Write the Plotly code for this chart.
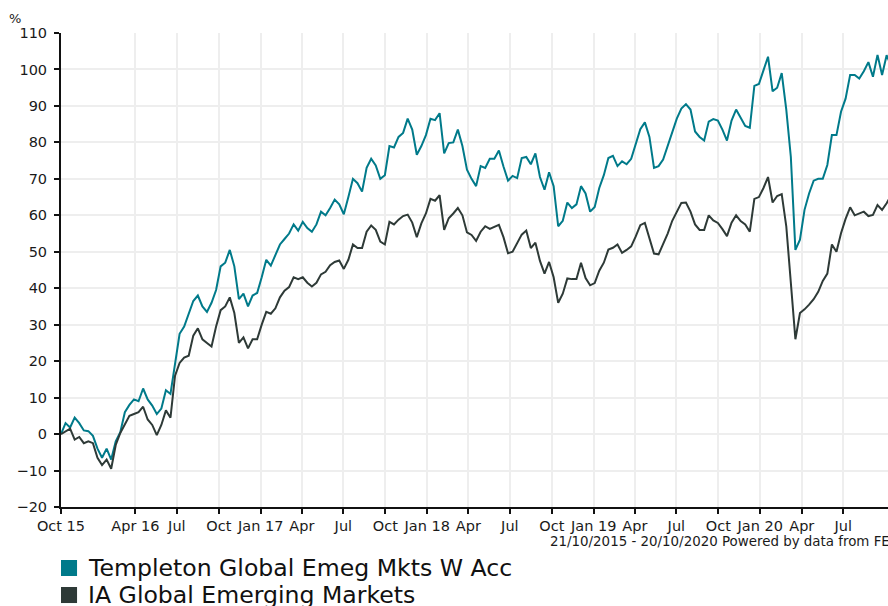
import pandas as pd
import plotly.graph_objects as go

# ---- data (% growth, every 10 days from 21/10/2015) ----
start_date = "2015-10-21"
n_points = 183

templeton = [
    0, 3, 1.8, 4.5, 3, 1, 0.8, -0.5, -4, -6.5,
    -4, -7, -2, 0.5, 6, 8, 9.5, 9, 12.5, 9.5,
    7.8, 5.5, 7, 12, 11, 19, 27.5, 29.5, 33, 36.5,
    38, 35, 33.5, 36, 39.5, 46, 47, 50.5, 46, 37,
    38.5, 35, 38, 38.7, 43, 47.8, 46.2, 49, 52, 53.5,
    55, 57.5, 55.8, 58.2, 56.5, 55.5, 57.5, 61, 60, 62,
    64.3, 63, 60.3, 65, 70, 68.8, 66.5, 73, 75.5, 73.7,
    70, 71, 79, 78.6, 81.5, 82.6, 86.5, 83.5, 76.6, 79,
    82, 86.5, 86.1, 88, 77, 79.8, 80, 83.5, 79, 72.5,
    70, 68, 73.5, 73, 75.5, 75.5, 77.8, 73.4, 69.5, 70.8,
    70.2, 75.7, 76, 74, 77, 70.5, 67, 71.8, 68, 57,
    58.5, 63.5, 62, 63, 68, 66, 61, 62.3, 67.5, 71,
    75.7, 76.3, 73.5, 74.8, 74, 75.5, 79.5, 83.6, 85.5, 81.5,
    73, 73.5, 75.3, 79, 83, 86.5, 89.3, 90.5, 89, 83,
    81.5, 80.5, 85.7, 86.4, 86, 83.5, 80.5, 86, 89, 86.6,
    84.5, 84, 95.5, 96, 100, 103.5, 94, 95, 99, 89,
    76, 50.5, 53.3, 61.5, 66, 69.5, 70, 70, 73.8, 82,
    82, 88.4, 92, 98.5, 98.5, 97.5, 99.5, 102, 98, 104,
    98.5, 103.9, 101,
]

ia_gem = [
    0, 0.8, 1.5, -1.5, -0.8, -2.5, -2, -2.5, -6.5, -8.5,
    -7, -9.5, -3, 0.3, 2.5, 5, 5.5, 6, 7.5, 4,
    2.5, -0.3, 2.5, 6.5, 4.5, 16, 19.5, 21, 21.5, 27,
    29, 26, 25, 24, 29.5, 34, 35, 37.5, 33.2, 25,
    26.5, 23.5, 26, 26, 30, 33.5, 33, 34.5, 37.5, 39.3,
    40.3, 43, 42.5, 43, 41.5, 40.5, 41.5, 43.8, 44.5, 46.3,
    47.2, 47.6, 45.3, 47.8, 52, 51, 51, 55.5, 57.2, 56,
    52.8, 52, 58.2, 57.5, 58.8, 59.8, 60.2, 58, 54, 57.8,
    60.5, 64.5, 64, 65.5, 56, 59.2, 60.5, 62, 60, 55.3,
    54.6, 53, 55.5, 57, 56.3, 56.8, 57.4, 54, 49.6, 50,
    52.3, 54.7, 55.8, 51, 52.5, 47.5, 44, 47.2, 43, 36,
    38.5, 42.7, 42.5, 42.5, 47, 42.8, 40.8, 41.4, 44.8, 47,
    50.6, 51.1, 52, 49.7, 50.5, 51.5, 54.2, 57.3, 57.9, 54,
    49.5, 49.3, 52, 55, 58.5, 61, 63.4, 63.5, 61, 57.5,
    56, 56, 60, 58.6, 57.9, 56.2, 54.3, 58, 60, 58.4,
    57.5, 55.5, 64.5, 65, 67.5, 70.5, 63.5, 65.3, 65.8, 57,
    42.3, 26, 33.2, 34.2, 35.5, 37, 39, 42, 44, 52,
    50, 55.1, 59, 62.2, 60, 60.4, 61, 59.8, 60.1, 62.8,
    61.5, 63.3, 65.5,
]

series_names = ["Templeton Global Emeg Mkts W Acc", "IA Global Emerging Markets"]
series_colors = ["#007A8A", "#2E3A37"]

tick_dates = ["2015-10-21", "2016-04-01", "2016-07-01", "2016-10-01", "2017-01-01",
              "2017-04-01", "2017-07-01", "2017-10-01", "2018-01-01", "2018-04-01",
              "2018-07-01", "2018-10-01", "2019-01-01", "2019-04-01", "2019-07-01",
              "2019-10-01", "2020-01-01", "2020-04-01", "2020-07-01"]
tick_labels = ["Oct 15", "Apr 16", "Jul", "Oct", "Jan 17", "Apr", "Jul", "Oct", "Jan 18",
               "Apr", "Jul", "Oct", "Jan 19", "Apr", "Jul", "Oct", "Jan 20", "Apr", "Jul"]
y_ticks = list(range(-20, 111, 10))
footer_text = "21/10/2015 - 20/10/2020 Powered by data from FE"

dates = pd.date_range(start_date, periods=n_points, freq="10D")

FONT = "DejaVu Sans, Verdana, sans-serif"
fig = go.Figure()

for vals, name, col in zip([templeton, ia_gem], series_names, series_colors):
    fig.add_trace(go.Scatter(x=dates, y=vals, mode="lines", name=name,
                             line=dict(color=col, width=2), showlegend=False,
                             hoverinfo="skip"))

# manual legend (square swatch + label) below the plot
legend_shapes = []
legend_annots = []
for k, (name, col) in enumerate(zip(series_names, series_colors)):
    y_top = -0.1118 - k * 0.057
    legend_shapes.append(dict(type="rect", xref="paper", yref="paper",
                              x0=0.0, x1=0.0194, y0=y_top - 0.0338, y1=y_top,
                              fillcolor=col, line=dict(width=0)))
    legend_annots.append(dict(text=name, xref="paper", yref="paper",
                              x=0.0300, y=y_top - 0.0169, xanchor="left", yanchor="middle",
                              showarrow=False,
                              font=dict(size=23.6, color="#111111", family=FONT)))

fig.update_layout(
    width=888, height=606,
    margin=dict(l=61, r=0, t=33, b=99),
    paper_bgcolor="white", plot_bgcolor="white",
    font=dict(family=FONT, size=14.5, color="#1a1a1a"),
    showlegend=False,
    xaxis=dict(
        type="date",
        range=["2015-10-21", "2020-10-07"],
        tickmode="array", tickvals=tick_dates, ticktext=tick_labels,
        showgrid=True, gridcolor="#EEEEEE", gridwidth=2,
        showline=True, linecolor="#111111", linewidth=2,
        ticks="outside", ticklen=5, tickcolor="#111111", tickwidth=2,
        tickfont=dict(size=14.5, color="#1a1a1a"),
        zeroline=False, fixedrange=True,
    ),
    yaxis=dict(
        range=[-20, 110],
        tickmode="array", tickvals=y_ticks,
        showgrid=True, gridcolor="#EEEEEE", gridwidth=2,
        showline=True, linecolor="#111111", linewidth=2,
        ticks="outside", ticklen=5, tickcolor="#111111", tickwidth=2,
        tickfont=dict(size=14.5, color="#1a1a1a"),
        ticklabelstandoff=4,
        zeroline=False, fixedrange=True,
    ),
    shapes=legend_shapes,
    annotations=[
        dict(text="%", xref="paper", yref="paper", x=-0.056, y=1.0316,
             xanchor="center", yanchor="middle", showarrow=False,
             font=dict(size=13, color="#1a1a1a")),
        dict(text=footer_text, xref="paper", yref="paper", x=0.5885, y=-0.072,
             xanchor="left", yanchor="middle", showarrow=False,
             font=dict(size=13.4, color="#1a1a1a")),
    ] + legend_annots,
)

fig.write_html("out.html", config={"displayModeBar": False},
               post_script="document.body.style.margin='0';document.body.style.overflow='hidden';")
